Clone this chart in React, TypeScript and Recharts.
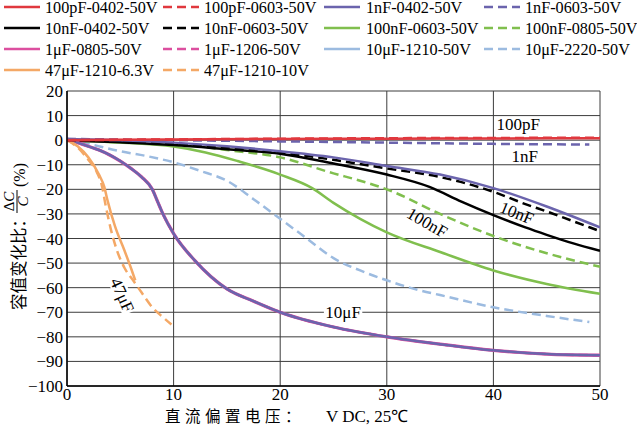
import { LineChart, Line, XAxis, YAxis, CartesianGrid, ReferenceDot } from 'recharts';

const SERIF = '"Liberation Serif", "Times New Roman", serif';
const CJK = '"Noto Sans CJK SC", "Noto Sans CJK JP", sans-serif';

const X_TICKS = [0, 10, 20, 30, 40, 50];
const Y_TICKS = [-100, -90, -80, -70, -60, -50, -40, -30, -20, -10, 0, 10, 20];

// 直流偏置电压 (V) / 容值变化比 (%)
const V_100P_0402 = [0, 10, 20, 30, 40, 50];
const C_100P_0402 = [0, 0.3, 0.5, 0.6, 0.7, 0.8];
const V_100P_0603 = [0, 10, 20, 30, 40, 50];
const C_100P_0603 = [0, 0.3, 0.6, 0.8, 0.9, 1.0];

const V_1N_0402 = [0, 5, 10, 15, 20, 25, 30, 35, 40, 45, 50];
const C_1N_0402 = [0.5, 0, -1, -2.5, -4.5, -7, -10.5, -14, -19.5, -27, -35.5];
const V_1N_0603 = [0, 10, 20, 30, 40, 49];
const C_1N_0603 = [0.5, 0, -0.5, -1, -1.5, -1.8];

const V_10N_0402 = [0, 10, 15, 20, 25, 30, 34, 37, 40, 43, 45, 47.5, 50];
const C_10N_0402 = [0, -2, -3.7, -5.5, -9.5, -14, -19, -25, -30.5, -35.5, -38.5, -42, -45];
const V_10N_0603 = [0, 10, 20, 25, 30, 35, 40, 43, 45, 47.5, 50];
const C_10N_0603 = [0, -1.5, -5, -8, -11.5, -15, -21, -26, -29, -33, -37];

const V_100N_0603 = [0, 5, 10, 13, 16, 20, 23, 25, 27.5, 30, 35, 40, 45, 50];
const C_100N_0603 = [0, -1, -2.6, -5, -8.5, -14, -19.5, -25.5, -32, -37.5, -45.5, -53, -58.5, -62.5];
const V_100N_0805 = [0, 10, 15, 20, 25, 27.5, 30, 35, 40, 45, 50];
const C_100N_0805 = [0, -1.5, -4, -7, -13.5, -16.5, -20, -30, -39, -46, -51.5];

const V_1U = [0, 1, 2, 3, 4, 5, 6, 7, 8, 8.5, 9, 10, 12, 15, 17.5, 20, 25, 30, 35, 40, 45, 50];
const C_1U_0805 = [0.5, -1, -2.5, -4, -6, -8.5, -11.5, -15, -20, -25, -30, -38, -49, -60.5, -65.5, -70, -76, -80, -83, -85.5, -87, -87.5];
const C_1U_1206 = [0.5, -1, -2.5, -4, -6, -8.5, -11.5, -15, -20, -25, -30, -38, -49, -60.5, -65.5, -70, -76, -80, -83, -85.5, -87, -87.5];
const C_10U_1210 = [0.5, -1, -2.5, -4, -6, -8.5, -11.5, -15, -20, -25, -30, -38, -49, -60.5, -65.5, -70, -76, -80, -83, -85.5, -87, -87.5];

const V_10U_2220 = [0, 2, 5, 7.5, 10, 12.5, 15, 17.5, 20, 22.5, 25, 27.5, 30, 33, 35, 40, 45, 49];
const C_10U_2220 = [0, -1.5, -4.5, -6.5, -9, -12.5, -16.5, -24, -32, -40, -48, -53, -57, -61, -63, -68, -71.5, -74];

const V_47U_63 = [0, 1, 2, 3, 3.5, 3.8, 4.5, 5.4, 6, 6.4];
const C_47U_63 = [0, -2.5, -7, -14, -19, -24.5, -35, -45, -52, -57];
const V_47U_10 = [0, 1, 2, 2.8, 3.3, 3.6, 4.1, 4.7, 5.4, 6.2, 7, 8, 9, 9.8];
const C_47U_10 = [0, -3, -8, -13, -19, -26, -36, -45, -52, -57, -62, -68, -72, -75];

const RED = '#e0383e';
const PURPLE = '#6b64ad';
const BLACK = '#000000';
const GREEN = '#80bf4e';
const MAGENTA = '#dc4f9f';
const LBLUE = '#9cbbe0';
const ORANGE = '#f4a866';

type Series = {
  name: string;
  xs: number[];
  ys: number[];
  color: string;
  lineColor?: string;
  dash?: boolean;
  width?: number;
};

// legend order (4 columns)
const SERIES: Series[] = [
  { name: '100pF-0402-50V', xs: V_100P_0402, ys: C_100P_0402, color: RED },
  { name: '100pF-0603-50V', xs: V_100P_0603, ys: C_100P_0603, color: RED, dash: true },
  { name: '1nF-0402-50V', xs: V_1N_0402, ys: C_1N_0402, color: PURPLE },
  { name: '1nF-0603-50V', xs: V_1N_0603, ys: C_1N_0603, color: PURPLE, dash: true },
  { name: '10nF-0402-50V', xs: V_10N_0402, ys: C_10N_0402, color: BLACK },
  { name: '10nF-0603-50V', xs: V_10N_0603, ys: C_10N_0603, color: BLACK, dash: true },
  { name: '100nF-0603-50V', xs: V_100N_0603, ys: C_100N_0603, color: GREEN },
  { name: '100nF-0805-50V', xs: V_100N_0805, ys: C_100N_0805, color: GREEN, dash: true },
  { name: '1μF-0805-50V', xs: V_1U, ys: C_1U_0805, color: MAGENTA, width: 3.3 },
  { name: '1μF-1206-50V', xs: V_1U, ys: C_1U_1206, color: MAGENTA, dash: true },
  { name: '10μF-1210-50V', xs: V_1U, ys: C_10U_1210, color: LBLUE, lineColor: PURPLE },
  { name: '10μF-2220-50V', xs: V_10U_2220, ys: C_10U_2220, color: LBLUE, dash: true },
  { name: '47μF-1210-6.3V', xs: V_47U_63, ys: C_47U_63, color: ORANGE },
  { name: '47μF-1210-10V', xs: V_47U_10, ys: C_47U_10, color: ORANGE, dash: true },
];

// drawing order, back to front
const DRAW_ORDER = [11, 6, 7, 4, 8, 9, 10, 12, 13, 5, 2, 3, 1, 0];

type Anno = { text: string; x: number; y: number; angle: number; bg?: boolean; anchor?: string };
const ANNOTATIONS: Anno[] = [
  { text: '100pF', x: 40.3, y: 6.5, angle: 0, anchor: 'start' },
  { text: '1nF', x: 41.7, y: -6.5, angle: 0, anchor: 'start' },
  { text: '10nF', x: 42.2, y: -29.5, angle: 22 },
  { text: '100nF', x: 33.8, y: -33.5, angle: 30 },
  { text: '47μF', x: 5.2, y: -63, angle: 66, bg: true },
  { text: '10μF', x: 25.9, y: -70, angle: 0, bg: true },
];

const LEG_LINE_X = [4, 163, 324, 484];
const LEG_TEXT_X = [45, 204, 366, 525];
const LEG_ROW_Y = [7, 28, 49, 70];

const pts = (xs: number[], ys: number[]) => xs.map((x, i) => ({ x, y: ys[i] }));
const fmt = (v: number) => (v < 0 ? '\u2212' + Math.abs(v) : String(v));

const YTick = ({ x, y, payload }: any) => (
  <text x={x} y={y} dy={6} textAnchor="end" fontFamily={SERIF} fontSize={17} fill="#000">
    {fmt(payload.value)}
  </text>
);

const XTick = ({ x, y, payload }: any) => (
  <text x={x} y={y} dy={14} textAnchor="middle" fontFamily={SERIF} fontSize={17} fill="#000">
    {payload.value}
  </text>
);

const AnnoLabel = ({ viewBox, a }: any) => {
  const cx = viewBox.x + viewBox.width / 2;
  const cy = viewBox.y + viewBox.height / 2;
  const anchor = a.anchor || 'middle';
  const w = a.text.length * 8.6;
  const rx = anchor === 'start' ? -2 : -w / 2 - 2;
  return (
    <g transform={`translate(${cx},${cy}) rotate(${a.angle})`}>
      {a.bg && <rect x={rx} y={-8} width={w + 4} height={16} fill="#fff" />}
      <text x={0} y={0} dy={6} textAnchor={anchor} fontFamily={SERIF} fontSize={17} fill="#000">
        {a.text}
      </text>
    </g>
  );
};

function LegendOverlay() {
  return (
    <svg width={637} height={85} style={{ position: 'absolute', left: 0, top: 0, pointerEvents: 'none' }}>
      {SERIES.map((s, i) => {
        const col = i % 4;
        const row = Math.floor(i / 4);
        const lx = LEG_LINE_X[col];
        const y = LEG_ROW_Y[row];
        return (
          <g key={s.name}>
            <line
              x1={lx}
              x2={lx + 36}
              y1={y}
              y2={y}
              stroke={s.color}
              strokeWidth={2.5}
              strokeDasharray={s.dash ? '9 5' : undefined}
            />
            <text x={LEG_TEXT_X[col]} y={y + 6} fontFamily={SERIF} fontSize={16.2} fill="#000">
              {s.name}
            </text>
          </g>
        );
      })}
    </svg>
  );
}

function AxisTitles() {
  return (
    <svg width={637} height={427} style={{ position: 'absolute', left: 0, top: 0, pointerEvents: 'none' }}>
      <text x={165} y={422} fontFamily={CJK} fontSize={15.5} letterSpacing={4.5} fill="#000">
        直流偏置电压：
      </text>
      <text x={326} y={422} fontFamily={SERIF} fontSize={17} fill="#000">
        V DC, 25℃
      </text>
      <g transform="translate(0,310) rotate(-90)">
        <text x={0} y={25} fontFamily={CJK} fontSize={16.5} fill="#000">
          容值变化比：
        </text>
        <text x={108.5} y={14} textAnchor="middle" fontFamily={SERIF} fontSize={15} fill="#000">
          Δ<tspan fontStyle="italic">C</tspan>
        </text>
        <line x1={97} x2={120} y1={17} y2={17} stroke="#000" strokeWidth={1} />
        <text x={108.5} y={28} textAnchor="middle" fontFamily={SERIF} fontSize={15} fontStyle="italic" fill="#000">
          C
        </text>
        <text x={123} y={25} fontFamily={SERIF} fontSize={16} fill="#000">
          (%)
        </text>
      </g>
    </svg>
  );
}

export default function App() {
  return (
    <div style={{ position: 'absolute', left: 0, top: 0, width: 637, height: 427, background: '#fff' }}>
      <LineChart width={637} height={427} margin={{ top: 91, right: 37, bottom: 0, left: 0 }}>
        <CartesianGrid stroke="#3c3c3c" strokeWidth={1} />
        <XAxis
          dataKey="x"
          type="number"
          domain={[0, 50]}
          ticks={X_TICKS}
          interval={0}
          allowDataOverflow
          height={41}
          tickLine={false}
          tickSize={0}
          tickMargin={0}
          axisLine={{ stroke: '#000', strokeWidth: 1.5 }}
          tick={<XTick />}
        />
        <YAxis
          type="number"
          domain={[-100, 20]}
          ticks={Y_TICKS}
          interval={0}
          allowDataOverflow
          width={67}
          tickLine={false}
          tickSize={0}
          tickMargin={4}
          axisLine={{ stroke: '#000', strokeWidth: 1.5 }}
          tick={<YTick />}
        />
        {DRAW_ORDER.map((idx) => {
          const s = SERIES[idx];
          return (
            <Line
              key={s.name}
              data={pts(s.xs, s.ys)}
              dataKey="y"
              type="monotone"
              stroke={s.lineColor || s.color}
              strokeWidth={s.width || 2.5}
              strokeDasharray={s.dash ? '9 5' : undefined}
              dot={false}
              activeDot={false}
              isAnimationActive={false}
            />
          );
        })}
        {ANNOTATIONS.map((a) => (
          <ReferenceDot
            key={a.text}
            x={a.x}
            y={a.y}
            r={1}
            fillOpacity={0}
            strokeOpacity={0}
            label={<AnnoLabel a={a} />}
          />
        ))}
      </LineChart>
      <LegendOverlay />
      <AxisTitles />
    </div>
  );
}
